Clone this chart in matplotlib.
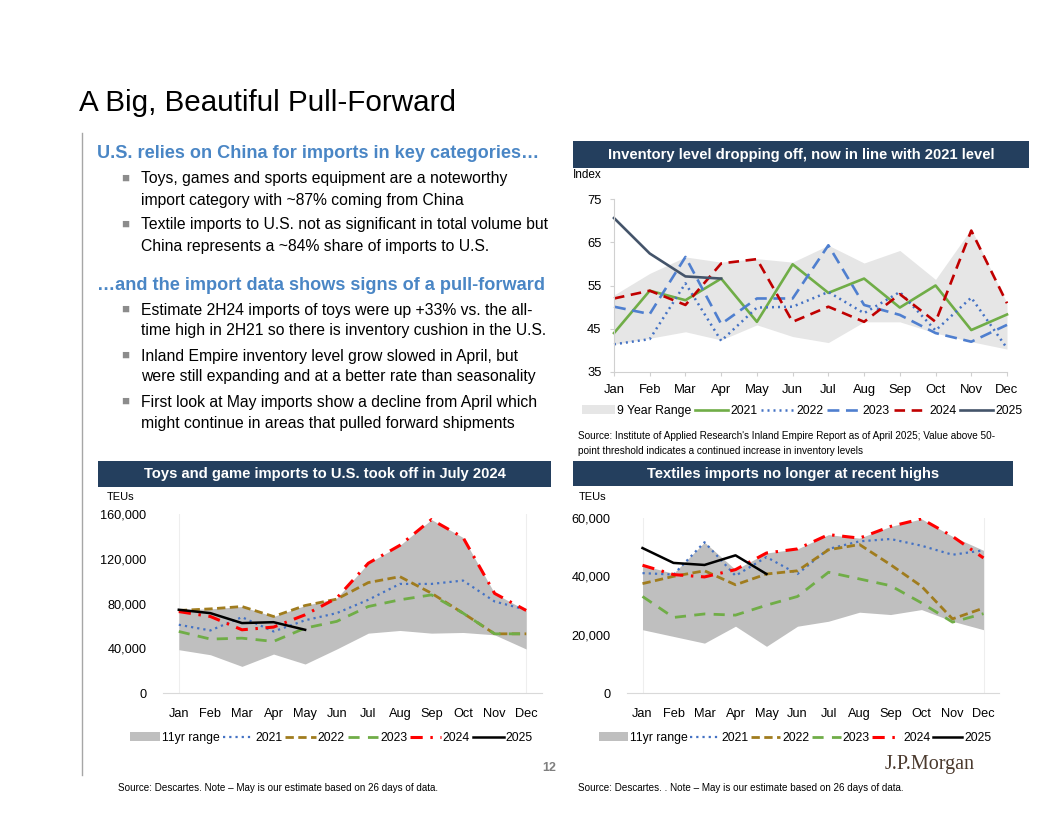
import matplotlib
matplotlib.use('Agg')
import matplotlib.pyplot as plt
from matplotlib.patches import Rectangle
from matplotlib.lines import Line2D
from matplotlib.ticker import StrMethodFormatter

W, H = 1056, 816

months = ['Jan', 'Feb', 'Mar', 'Apr', 'May', 'Jun',
          'Jul', 'Aug', 'Sep', 'Oct', 'Nov', 'Dec']

# inventory index (Inland Empire)
inv_range_lo = [41.4, 42.8, 44.3, 42.4, 45.9, 43.2, 41.8, 46.6, 46.6, 44.0, 42.0, 40.3]
inv_range_hi = [52.8, 57.8, 61.6, 60.4, 61.2, 60.4, 64.3, 60.2, 63.1, 56.4, 68.1, 50.9]
inv_2021 = [44.0, 53.8, 51.6, 56.6, 46.6, 59.9, 53.3, 56.6, 49.9, 55.0, 44.7, 48.3]
inv_2022 = [41.4, 42.6, 55.5, 42.2, 49.9, 50.1, 53.5, 48.6, 53.5, 44.6, 52.2, 40.5]
inv_2023 = [50.1, 48.4, 61.6, 46.1, 52.0, 52.0, 64.3, 50.5, 48.2, 44.0, 42.0, 45.9]
inv_2024 = [52.0, 53.8, 50.5, 60.1, 61.1, 46.6, 50.1, 46.6, 53.0, 46.6, 67.7, 50.9]
inv_2025 = [70.6, 62.4, 57.1, 56.6]

# toys and games imports, thousand TEUs
toy_range_lo = [38.7, 34.2, 23.8, 34.8, 25.9, 39.3, 53.5, 55.9, 53.5, 54.1, 52.0, 39.3]
toy_range_hi = [74.4, 75.2, 77.3, 68.4, 78.2, 84.8, 116.0, 132.0, 155.0, 139.0, 89.0, 73.8]
toy_2021 = [61.0, 55.9, 67.8, 55.0, 65.0, 71.4, 83.3, 97.5, 97.5, 100.5, 81.8, 74.4]
toy_2022 = [73.8, 75.2, 77.3, 68.4, 78.2, 83.9, 98.7, 104.0, 89.2, 71.4, 52.9, 52.9]
toy_2023 = [55.0, 48.2, 49.0, 46.1, 58.0, 64.0, 77.3, 83.3, 87.7, 71.4, 52.9, 52.9]
toy_2024 = [72.8, 68.4, 56.5, 58.9, 69.9, 84.8, 116.0, 132.0, 155.0, 139.0, 89.0, 73.8]
toy_2025 = [74.4, 71.4, 62.5, 63.3, 56.5]

# textiles imports, thousand TEUs
tex_range_lo = [21.7, 19.4, 17.1, 22.9, 16.0, 22.9, 24.6, 27.7, 26.9, 28.6, 24.6, 21.7]
tex_range_hi = [43.8, 41.0, 51.7, 42.3, 48.0, 49.4, 54.3, 53.1, 57.1, 59.7, 53.7, 48.9]
tex_2021 = [41.1, 40.6, 51.7, 40.2, 46.6, 40.8, 49.4, 52.0, 52.8, 50.5, 47.4, 48.9]
tex_2022 = [37.5, 40.0, 41.9, 37.1, 40.8, 41.9, 49.1, 50.9, 44.0, 36.6, 25.4, 29.1]
tex_2023 = [33.1, 25.9, 27.1, 26.7, 30.1, 33.1, 41.4, 39.1, 36.8, 30.9, 24.3, 27.2]
tex_2024 = [43.8, 40.6, 39.8, 42.3, 48.0, 49.4, 54.3, 53.1, 57.1, 59.7, 53.7, 46.3]
tex_2025 = [49.7, 44.6, 43.9, 47.2, 40.8]

SANS = ['Liberation Sans', 'DejaVu Sans']
NARROW = ['Liberation Sans Narrow', 'Liberation Sans', 'DejaVu Sans']
plt.rcParams['font.family'] = SANS

NAVY = '#243F5E'
HEAD_BLUE = '#4A86C5'


def fx(px):
    return px / W


def fy(py):
    return 1 - py / H


def header(x0, x1, y0, y1, text):
    fig.add_artist(Rectangle((fx(x0), fy(y1)), fx(x1) - fx(x0), fy(y0) - fy(y1),
                             transform=fig.transFigure, color=NAVY, lw=0))
    fig.text(fx((x0 + x1) / 2), fy((y0 + y1) / 2), text, color='white',
             fontsize=10.6, fontweight='bold', ha='center', va='center', family=NARROW)


fig = plt.figure(figsize=(W / 100, H / 100), dpi=100)
fig.patch.set_facecolor('white')

# title and left panel
fig.text(fx(79), fy(103), 'A Big, Beautiful Pull-Forward', fontsize=21.3,
         ha='left', va='center', color='black')
fig.add_artist(Line2D([fx(82), fx(82)], [fy(133), fy(775)], transform=fig.transFigure,
                      color='#A6A6A6', lw=1))

fig.text(fx(97), fy(153), 'U.S. relies on China for imports in key categories\u2026',
         fontsize=13.1, fontweight='bold', color=HEAD_BLUE, va='center')
fig.text(fx(97), fy(285), '\u2026and the import data shows signs of a pull-forward',
         fontsize=13.1, fontweight='bold', color=HEAD_BLUE, va='center')

bullets = [
    (179, ['Toys, games and sports equipment are a noteworthy',
           'import category with ~87% coming from China']),
    (225, ['Textile imports to U.S. not as significant in total volume but',
           'China represents a ~84% share of imports to U.S.']),
    (310, ['Estimate 2H24 imports of toys were up +33% vs. the all-',
           'time high in 2H21 so there is inventory cushion in the U.S.']),
    (356, ['Inland Empire inventory level grow slowed in April, but',
           'were still expanding and at a better rate than seasonality']),
    (402, ['First look at May imports show a decline from April which',
           'might continue in areas that pulled forward shipments']),
]
for y, lines in bullets:
    fig.text(fx(125), fy(y), '\u25a0', fontsize=9.5, color='#8C8C8C', ha='center', va='center')
    for i, line in enumerate(lines):
        fig.text(fx(141), fy(y + 21 * i), line, fontsize=11.3, color='black', va='center')

# ---------- inventory chart ----------
header(573, 1029, 141, 168, 'Inventory level dropping off, now in line with 2021 level')
fig.text(fx(573), fy(175), 'Index', fontsize=8.5, family=NARROW, va='center')

ax1 = fig.add_axes([fx(614), fy(372), fx(1007) - fx(614), fy(199) - fy(372)])
x = list(range(12))
ax1.fill_between(x, inv_range_lo, inv_range_hi, color='#E6E6E6', lw=0,
                 label='9 Year Range')
ax1.plot(x, inv_2021, color='#70AD47', lw=1.9, label='2021', clip_on=False)
ax1.plot(x, inv_2022, color='#4472C4', lw=1.8, ls=(0, (0.8, 1.6)), label='2022',
         clip_on=False)
ax1.plot(x, inv_2023, color='#4F7FCF', lw=1.9, ls=(0, (4.5, 2.5)), label='2023',
         clip_on=False)
ax1.plot(x, inv_2024, color='#C00000', lw=1.9, ls=(0, (4, 2.5)), label='2024',
         clip_on=False)
ax1.plot(range(len(inv_2025)), inv_2025, color='#44546A', lw=1.9, label='2025',
         clip_on=False)
ax1.set_xlim(0, 11)
ax1.set_ylim(35, 75)
ax1.set_yticks([35, 45, 55, 65, 75])
ax1.set_xticks(x)
ax1.set_xticklabels(months)
for s in ['top', 'right']:
    ax1.spines[s].set_visible(False)
for s in ['left', 'bottom']:
    ax1.spines[s].set_color('#D0D0D0')
ax1.tick_params(length=3, color='#D0D0D0', labelsize=9.4, pad=6)
for lab in ax1.get_xticklabels() + ax1.get_yticklabels():
    lab.set_family(NARROW)
h1, l1 = ax1.get_legend_handles_labels()
fig.legend(h1, l1, loc='center', bbox_to_anchor=(fx(802), fy(411)), ncol=6,
           frameon=False, prop={'family': NARROW, 'size': 8.8}, handlelength=2.7,
           handletextpad=0.2, columnspacing=0.3)
fig.text(fx(578), fy(436), "Source: Institute of Applied Research's Inland Empire Report as "
         "of April 2025; Value above 50-", fontsize=7.2, family=NARROW, va='center')
fig.text(fx(578), fy(451), 'point threshold indicates a continued increase in inventory levels',
         fontsize=7.2, family=NARROW, va='center')


# ---------- bottom charts ----------
def teu_chart(rect, lo, hi, y21, y22, y23, y24, y25, ymax, yticks):
    ax = fig.add_axes(rect)
    k = 1000
    ax.fill_between(x, [v * k for v in lo], [v * k for v in hi], color='#BFBFBF', lw=0,
                    label='11yr range')
    ax.axvline(0, color='#EEEEEE', lw=0.8, zorder=0)
    ax.axvline(11, color='#EEEEEE', lw=0.8, zorder=0)
    ax.plot(x, [v * k for v in y21], color='#4472C4', lw=1.6, ls=(0, (1, 1.8)), label='2021')
    ax.plot(x, [v * k for v in y22], color='#A07C1E', lw=2.0, ls=(0, (3, 1.6)), label='2022')
    ax.plot(x, [v * k for v in y23], color='#70AD47', lw=2.0, ls=(0, (4, 3)), label='2023')
    ax.plot(x, [v * k for v in y24], color='#FF0000', lw=2.2, ls=(0, (4, 2.5, 0.8, 2.5)),
            label='2024')
    ax.plot(range(len(y25)), [v * k for v in y25], color='black', lw=1.8, label='2025')
    ax.set_xlim(-0.5, 11.5)
    ax.set_ylim(0, ymax)
    ax.set_yticks(yticks)
    ax.yaxis.set_major_formatter(StrMethodFormatter('{x:,.0f}'))
    ax.set_xticks(x)
    ax.set_xticklabels(months)
    for s in ['top', 'right', 'left']:
        ax.spines[s].set_visible(False)
    ax.spines['bottom'].set_color('#D9D9D9')
    ax.tick_params(length=0, labelsize=9.2, pad=12)
    ax.tick_params(axis='x', pad=11)
    for lab in ax.get_xticklabels() + ax.get_yticklabels():
        lab.set_family(NARROW)
    return ax


header(98, 551, 461, 487, 'Toys and game imports to U.S. took off in July 2024')
fig.text(fx(107), fy(497), 'TEUs', fontsize=8, family=NARROW, va='center')
ax2 = teu_chart([fx(163), fy(693), fx(542) - fx(163), fy(514) - fy(693)],
                toy_range_lo, toy_range_hi, toy_2021, toy_2022, toy_2023, toy_2024, toy_2025,
                160000, [0, 40000, 80000, 120000, 160000])
h2, l2 = ax2.get_legend_handles_labels()
fig.legend(h2, l2, loc='center', bbox_to_anchor=(fx(331), fy(738)), ncol=6,
           frameon=False, prop={'family': NARROW, 'size': 8.8}, handlelength=2.5,
           handletextpad=0.15, columnspacing=0.25)

header(573, 1013, 461, 486, 'Textiles imports no longer at recent highs')
fig.text(fx(579), fy(497), 'TEUs', fontsize=8, family=NARROW, va='center')
ax3 = teu_chart([fx(627), fy(693), fx(999) - fx(627), fy(518) - fy(693)],
                tex_range_lo, tex_range_hi, tex_2021, tex_2022, tex_2023, tex_2024, tex_2025,
                60000, [0, 20000, 40000, 60000])
h3, l3 = ax3.get_legend_handles_labels()
fig.legend(h3, l3, loc='center', bbox_to_anchor=(fx(795), fy(738)), ncol=6,
           frameon=False, prop={'family': NARROW, 'size': 8.8}, handlelength=2.4,
           handletextpad=0.15, columnspacing=0.2)

# footer
fig.text(fx(118), fy(788), 'Source: Descartes. Note \u2013 May is our estimate based on 26 days of data.',
         fontsize=7.1, family=NARROW, va='center')
fig.text(fx(578), fy(788), 'Source: Descartes. . Note \u2013 May is our estimate based on 26 days of data.',
         fontsize=7.1, family=NARROW, va='center')
fig.text(fx(549), fy(768), '12', fontsize=9, fontweight='bold', color='#7F7F7F',
         ha='center', va='center')
fig.text(fx(930), fy(765), 'J.P.Morgan', fontsize=14.5, family=['Liberation Serif', 'DejaVu Serif'],
         color='#4B3A2E', ha='center', va='center')

fig.savefig('out.png', dpi=100)
